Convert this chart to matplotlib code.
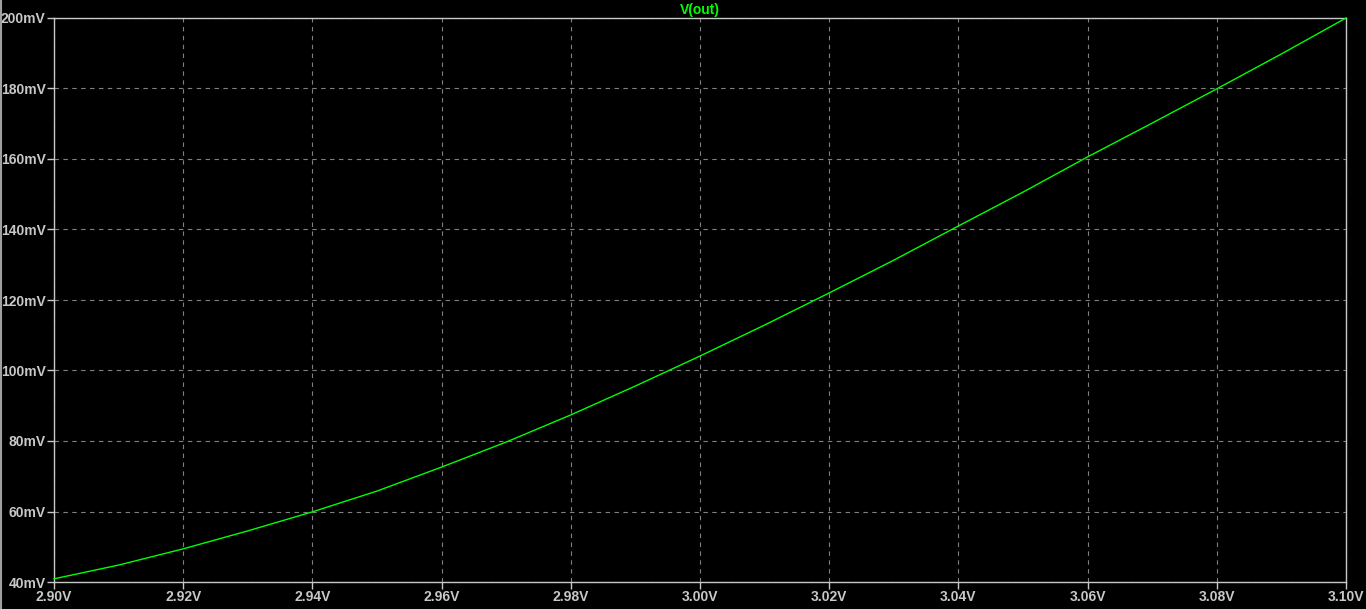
import matplotlib
matplotlib.use("Agg")
import matplotlib.pyplot as plt
from matplotlib.ticker import FuncFormatter

# swept input (V) and V(out) (mV)
vin = [2.90, 2.91, 2.92, 2.93, 2.94, 2.95, 2.96, 2.97, 2.98, 2.99, 3.00,
       3.01, 3.02, 3.03, 3.04, 3.05, 3.06, 3.07, 3.08, 3.09, 3.10]
vout = [40.9, 44.8, 49.4, 54.5, 59.9, 65.8, 72.6, 79.7, 87.4, 95.6, 104.1,
        112.9, 122.0, 131.3, 141.0, 150.6, 160.6, 170.2, 179.9, 189.8, 200.0]
x_ticks = [2.90, 2.92, 2.94, 2.96, 2.98, 3.00, 3.02, 3.04, 3.06, 3.08, 3.10]
y_ticks = [40, 60, 80, 100, 120, 140, 160, 180, 200]

FG = "#c8c8c8"
GRIDC = "#808080"
TRACE = "#00ff00"

plt.rcParams.update({"font.family": "Liberation Sans", "font.size": 10})

fig = plt.figure(figsize=(13.66, 6.09), dpi=100, facecolor="black")
ax = fig.add_axes([54 / 1366, 1 - 582 / 609, 1292 / 1366, 564 / 609])
ax.set_facecolor("black")

ax.plot(vin, vout, color=TRACE, lw=1.0, zorder=3, clip_on=False)

ax.set_xlim(2.90, 3.10)
ax.set_ylim(40, 200)
ax.set_xticks(x_ticks)
ax.set_yticks(y_ticks)
ax.xaxis.set_major_formatter(FuncFormatter(lambda v, p: f"{v:.2f}V"))
ax.yaxis.set_major_formatter(FuncFormatter(lambda v, p: f"{v:.0f}mV"))
ax.tick_params(colors=FG, labelcolor=FG, length=5, width=1, direction="out",
               labelsize=10, pad=1)
for lab in ax.get_xticklabels() + ax.get_yticklabels():
    lab.set_fontweight("bold")

ax.grid(True, color=GRIDC, ls=(0, (4, 4)), lw=0.8)
for s in ax.spines.values():
    s.set_color(FG)
    s.set_linewidth(1.0)

ax.set_title("V(out)", color=TRACE, fontsize=10, fontweight="bold", pad=3)

# thin window border on the left edge
fig.add_artist(plt.Line2D([0.001, 0.001], [0, 1], color="#a0a0a0", lw=1.5,
                          transform=fig.transFigure))

fig.savefig("out.png", dpi=100, facecolor="black")
